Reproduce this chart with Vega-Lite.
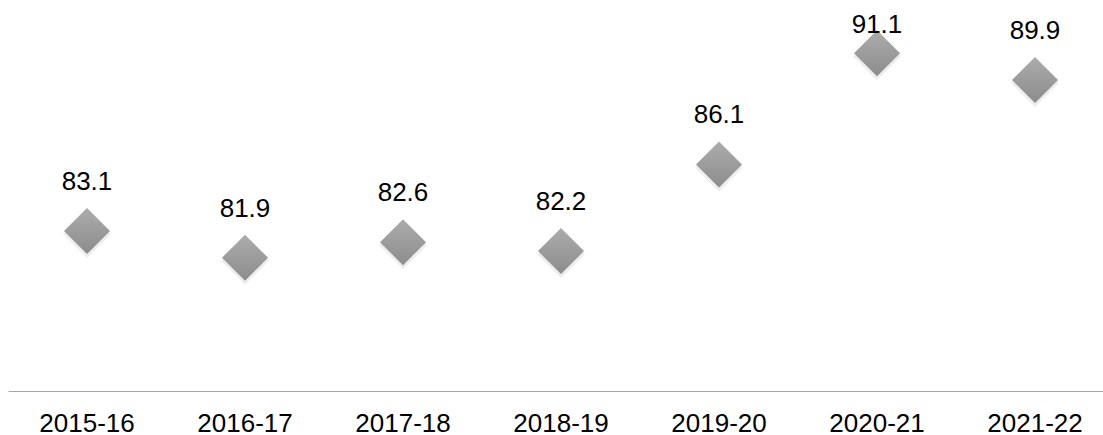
{
  "$schema": "https://vega.github.io/schema/vega-lite/v6.json",
  "autosize": "none",
  "width": 1095,
  "height": 391,
  "padding": {"left": 8, "top": 0, "right": 0, "bottom": 44},
  "background": "white",
  "config": {"view": {"stroke": null}, "font": "Liberation Sans"},
  "data": {
    "values": [
      {"year": "2015-16", "value": 83.1},
      {"year": "2016-17", "value": 81.9},
      {"year": "2017-18", "value": 82.6},
      {"year": "2018-19", "value": 82.2},
      {"year": "2019-20", "value": 86.1},
      {"year": "2020-21", "value": 91.1},
      {"year": "2021-22", "value": 89.9}
    ]
  },
  "encoding": {
    "x": {
      "field": "year", "type": "nominal", "sort": null,
      "scale": {"type": "band", "range": [0, 1106], "paddingInner": 0, "paddingOuter": 0},
      "axis": {
        "title": null, "ticks": false, "tickSize": 0, "grid": false,
        "domainColor": "#a6a6a6", "domainWidth": 1,
        "labelFont": "Liberation Sans", "labelFontSize": 26, "labelColor": "#000000",
        "labelAngle": 0, "labelBaseline": "alphabetic", "labelPadding": 40
      }
    },
    "y": {
      "field": "value", "type": "quantitative",
      "scale": {"domain": [75.9, 93.5], "nice": false, "zero": false},
      "axis": null
    }
  },
  "layer": [
    {
      "mark": {"type": "point", "shape": "diamond", "size": 2300, "filled": true, "color": "#000000", "opacity": 0.07, "yOffset": 3}
    },
    {
      "mark": {"type": "point", "shape": "diamond", "size": 2116, "filled": true, "opacity": 1,
        "fill": {"gradient": "linear", "x1": 0, "y1": 0, "x2": 0, "y2": 1,
          "stops": [{"offset": 0, "color": "#acacac"}, {"offset": 1, "color": "#8c8c8c"}]},
        "stroke": null}
    },
    {
      "transform": [{"filter": "datum.value < 91"}],
      "mark": {"type": "text", "baseline": "alphabetic", "dy": -41, "fontSize": 26, "font": "Liberation Sans", "color": "#000000"},
      "encoding": {"text": {"field": "value", "type": "quantitative", "format": ".1f"}}
    },
    {
      "transform": [{"filter": "datum.value >= 91"}],
      "mark": {"type": "text", "baseline": "alphabetic", "dy": -20, "fontSize": 26, "font": "Liberation Sans", "color": "#000000"},
      "encoding": {"text": {"field": "value", "type": "quantitative", "format": ".1f"}}
    }
  ]
}
